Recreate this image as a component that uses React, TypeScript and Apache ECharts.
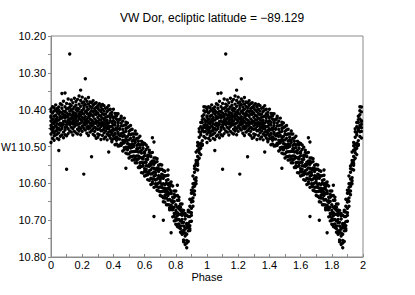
import React, { useEffect, useRef } from "react";
import * as echarts from "echarts";

const titleText = "VW Dor, ecliptic latitude = \u221289.129";
const xName = "Phase";
const yName = "W1";

// phase bins (one folded cycle); the curve is drawn twice (phase and phase + 1)
const binPhases = [
  0.0, 0.01, 0.02, 0.03, 0.04, 0.05, 0.06, 0.07, 0.08, 0.09,
  0.1, 0.11, 0.12, 0.13, 0.14, 0.15, 0.16, 0.17, 0.18, 0.19,
  0.2, 0.21, 0.22, 0.23, 0.24, 0.25, 0.26, 0.27, 0.28, 0.29,
  0.3, 0.31, 0.32, 0.33, 0.34, 0.35, 0.36, 0.37, 0.38, 0.39,
  0.4, 0.41, 0.42, 0.43, 0.44, 0.45, 0.46, 0.47, 0.48, 0.49,
  0.5, 0.51, 0.52, 0.53, 0.54, 0.55, 0.56, 0.57, 0.58, 0.59,
  0.6, 0.61, 0.62, 0.63, 0.64, 0.65, 0.66, 0.67, 0.68, 0.69,
  0.7, 0.71, 0.72, 0.73, 0.74, 0.75, 0.76, 0.77, 0.78, 0.79,
  0.8, 0.81, 0.82, 0.83, 0.84, 0.85, 0.86, 0.87, 0.88, 0.89,
  0.9, 0.91, 0.92, 0.93, 0.94, 0.95, 0.96, 0.97, 0.98, 0.99,
];

const binMags = [
  [10.417, 10.452, 10.398, 10.466, 10.431, 10.405, 10.489, 10.443, 10.421],
  [10.461, 10.409, 10.436, 10.478, 10.392, 10.447, 10.426, 10.455],
  [10.433, 10.395, 10.471, 10.418, 10.449, 10.483, 10.404, 10.438, 10.462],
  [10.426, 10.458, 10.401, 10.444, 10.387, 10.469, 10.415, 10.432],
  [10.449, 10.397, 10.478, 10.421, 10.438, 10.407, 10.456, 10.429, 10.466],
  [10.412, 10.463, 10.393, 10.44, 10.428, 10.481, 10.402, 10.511, 10.451],
  [10.437, 10.384, 10.455, 10.418, 10.472, 10.406, 10.443, 10.424],
  [10.396, 10.451, 10.423, 10.469, 10.41, 10.438, 10.356, 10.387, 10.445],
  [10.44, 10.377, 10.419, 10.461, 10.404, 10.432, 10.476, 10.413],
  [10.431, 10.392, 10.455, 10.416, 10.355, 10.448, 10.405, 10.468, 10.422],
  [10.409, 10.447, 10.383, 10.434, 10.562, 10.419, 10.471, 10.398, 10.441],
  [10.428, 10.371, 10.452, 10.413, 10.437, 10.396, 10.465, 10.42],
  [10.249, 10.404, 10.441, 10.385, 10.426, 10.458, 10.412, 10.433, 10.394],
  [10.436, 10.389, 10.461, 10.415, 10.401, 10.448, 10.374, 10.424],
  [10.407, 10.452, 10.423, 10.381, 10.439, 10.469, 10.398, 10.415, 10.431],
  [10.428, 10.369, 10.446, 10.409, 10.393, 10.437, 10.459, 10.418],
  [10.4, 10.442, 10.378, 10.425, 10.411, 10.463, 10.388, 10.434, 10.419],
  [10.431, 10.396, 10.453, 10.372, 10.417, 10.44, 10.404, 10.466],
  [10.411, 10.447, 10.385, 10.424, 10.363, 10.438, 10.398, 10.458, 10.42],
  [10.347, 10.427, 10.391, 10.452, 10.406, 10.436, 10.375, 10.415, 10.468],
  [10.421, 10.382, 10.445, 10.402, 10.43, 10.366, 10.459, 10.41],
  [10.575, 10.397, 10.436, 10.412, 10.379, 10.451, 10.424, 10.389, 10.442],
  [10.316, 10.428, 10.371, 10.455, 10.405, 10.419, 10.441, 10.386, 10.433],
  [10.41, 10.448, 10.393, 10.426, 10.464, 10.377, 10.437, 10.402],
  [10.432, 10.385, 10.452, 10.413, 10.399, 10.445, 10.367, 10.421, 10.47],
  [10.425, 10.391, 10.461, 10.408, 10.437, 10.379, 10.449, 10.416],
  [10.528, 10.403, 10.444, 10.381, 10.428, 10.457, 10.414, 10.395, 10.436],
  [10.418, 10.467, 10.388, 10.433, 10.405, 10.452, 10.376, 10.441],
  [10.436, 10.397, 10.471, 10.412, 10.448, 10.384, 10.425, 10.459, 10.403],
  [10.413, 10.452, 10.394, 10.437, 10.478, 10.405, 10.43, 10.381],
  [10.444, 10.389, 10.421, 10.466, 10.409, 10.453, 10.433, 10.396, 10.475],
  [10.427, 10.468, 10.401, 10.44, 10.384, 10.452, 10.415, 10.436],
  [10.418, 10.457, 10.393, 10.437, 10.481, 10.405, 10.446, 10.428, 10.39],
  [10.442, 10.399, 10.47, 10.423, 10.411, 10.456, 10.386, 10.435],
  [10.427, 10.463, 10.404, 10.446, 10.389, 10.437, 10.479, 10.414, 10.452],
  [10.448, 10.396, 10.431, 10.474, 10.412, 10.458, 10.421, 10.44],
  [10.419, 10.466, 10.394, 10.443, 10.429, 10.482, 10.405, 10.451, 10.436],
  [10.515, 10.452, 10.401, 10.436, 10.47, 10.417, 10.445, 10.389, 10.461],
  [10.411, 10.459, 10.477, 10.43, 10.446, 10.399, 10.469, 10.422],
  [10.487, 10.435, 10.456, 10.407, 10.464, 10.416, 10.445, 10.482],
  [10.43, 10.471, 10.399, 10.456, 10.441, 10.479, 10.422, 10.452],
  [10.41, 10.467, 10.495, 10.435, 10.419, 10.478, 10.442, 10.464],
  [10.411, 10.474, 10.45, 10.493, 10.426, 10.455, 10.417, 10.483],
  [10.437, 10.499, 10.444, 10.462, 10.411, 10.479, 10.433, 10.466],
  [10.426, 10.496, 10.453, 10.47, 10.427, 10.498, 10.451, 10.48],
  [10.418, 10.465, 10.491, 10.444, 10.497, 10.436, 10.471, 10.423],
  [10.483, 10.463, 10.512, 10.444, 10.472, 10.431, 10.491, 10.454],
  [10.508, 10.423, 10.484, 10.47, 10.442, 10.503, 10.461, 10.49],
  [10.434, 10.483, 10.518, 10.459, 10.502, 10.442, 10.476, 10.451, 10.559],
  [10.492, 10.449, 10.52, 10.473, 10.502, 10.436, 10.483, 10.509],
  [10.467, 10.52, 10.459, 10.494, 10.446, 10.502, 10.482, 10.531],
  [10.468, 10.496, 10.455, 10.515, 10.478, 10.528, 10.443, 10.504],
  [10.494, 10.466, 10.527, 10.485, 10.514, 10.453, 10.502, 10.537],
  [10.483, 10.526, 10.466, 10.5, 10.475, 10.536, 10.494, 10.514],
  [10.458, 10.527, 10.489, 10.534, 10.466, 10.513, 10.483, 10.544],
  [10.506, 10.478, 10.526, 10.544, 10.497, 10.513, 10.466, 10.536],
  [10.494, 10.557, 10.505, 10.526, 10.477, 10.534, 10.486, 10.515],
  [10.557, 10.503, 10.544, 10.472, 10.529, 10.514, 10.552, 10.495],
  [10.531, 10.486, 10.543, 10.571, 10.511, 10.495, 10.554, 10.518],
  [10.546, 10.49, 10.553, 10.529, 10.572, 10.505, 10.534, 10.496],
  [10.567, 10.518, 10.58, 10.525, 10.543, 10.492, 10.56, 10.514],
  [10.552, 10.508, 10.578, 10.535, 10.562, 10.496, 10.543, 10.569],
  [10.524, 10.57, 10.502, 10.553, 10.535, 10.59, 10.528, 10.577],
  [10.516, 10.554, 10.525, 10.592, 10.549, 10.573, 10.51, 10.566],
  [10.55, 10.586, 10.527, 10.543, 10.603, 10.575, 10.518, 10.563],
  [10.539, 10.596, 10.558, 10.573, 10.516, 10.588, 10.547, 10.601, 10.476],
  [10.569, 10.54, 10.588, 10.531, 10.58, 10.559, 10.611, 10.548, 10.488, 10.69],
  [10.601, 10.531, 10.578, 10.562, 10.609, 10.591, 10.543, 10.571],
  [10.619, 10.558, 10.588, 10.541, 10.609, 10.564, 10.602, 10.533],
  [10.599, 10.579, 10.621, 10.56, 10.585, 10.551, 10.611, 10.568],
  [10.633, 10.598, 10.549, 10.61, 10.581, 10.623, 10.562, 10.59],
  [10.611, 10.55, 10.635, 10.585, 10.622, 10.562, 10.603, 10.575],
  [10.65, 10.601, 10.621, 10.565, 10.613, 10.578, 10.639, 10.586, 10.7],
  [10.64, 10.614, 10.567, 10.633, 10.604, 10.651, 10.58, 10.623],
  [10.63, 10.658, 10.64, 10.621, 10.6, 10.592, 10.579, 10.615],
  [10.603, 10.59, 10.613, 10.578, 10.625, 10.658, 10.645, 10.633, 10.564],
  [10.617, 10.6, 10.609, 10.628, 10.672, 10.659, 10.644, 10.667],
  [10.596, 10.627, 10.604, 10.621, 10.648, 10.66, 10.628, 10.671, 10.734],
  [10.647, 10.667, 10.638, 10.607, 10.665, 10.672, 10.691, 10.653],
  [10.638, 10.649, 10.621, 10.63, 10.689, 10.702, 10.665, 10.682],
  [10.634, 10.658, 10.621, 10.694, 10.7, 10.674, 10.682, 10.711],
  [10.68, 10.699, 10.712, 10.688, 10.646, 10.665, 10.633, 10.717, 10.605],
  [10.71, 10.684, 10.72, 10.698, 10.638, 10.669, 10.646, 10.663],
  [10.716, 10.723, 10.702, 10.733, 10.673, 10.684, 10.656, 10.665],
  [10.687, 10.656, 10.698, 10.679, 10.672, 10.738, 10.707, 10.73],
  [10.674, 10.759, 10.683, 10.706, 10.728, 10.735, 10.754, 10.716],
  [10.682, 10.721, 10.697, 10.688, 10.766, 10.735, 10.743, 10.724],
  [10.713, 10.72, 10.687, 10.709, 10.762, 10.775, 10.738, 10.755],
  [10.721, 10.673, 10.729, 10.709, 10.758, 10.69, 10.718, 10.677],
  [10.715, 10.678, 10.728, 10.643, 10.704, 10.69, 10.662, 10.723],
  [10.651, 10.68, 10.619, 10.668, 10.703, 10.644, 10.687, 10.627],
  [10.626, 10.601, 10.662, 10.62, 10.64, 10.58, 10.649, 10.611],
  [10.621, 10.553, 10.6, 10.57, 10.631, 10.588, 10.56, 10.608],
  [10.593, 10.546, 10.562, 10.515, 10.585, 10.538, 10.601, 10.549],
  [10.538, 10.489, 10.546, 10.498, 10.527, 10.564, 10.51, 10.551],
  [10.452, 10.509, 10.494, 10.532, 10.475, 10.505, 10.46, 10.517],
  [10.522, 10.462, 10.446, 10.505, 10.469, 10.491, 10.435, 10.498],
  [10.451, 10.494, 10.427, 10.456, 10.418, 10.484, 10.435, 10.497],
  [10.425, 10.443, 10.392, 10.46, 10.414, 10.447, 10.403, 10.473],
  [10.432, 10.449, 10.406, 10.477, 10.43, 10.459, 10.393, 10.44],
];

const cycleOffsets = [0, 1];

const yMin = 10.2;
const yMax = 10.8;
const yStep = 0.1;
const xMin = 0;
const xMax = 2;
const xStep = 0.2;

export default function App() {
  const ref = useRef<HTMLDivElement>(null);

  useEffect(() => {
    if (!ref.current) return;
    const chart = echarts.init(ref.current, null, { renderer: "svg" });

    const points: number[][] = [];
    cycleOffsets.forEach((off) => {
      binPhases.forEach((p, i) => {
        binMags[i].forEach((m) => points.push([p + off, m]));
      });
    });

    const font = "'Liberation Sans', Arial, Helvetica, sans-serif";
    const axisGrey = "#8a8a8a";

    chart.setOption({
      animation: false,
      backgroundColor: "#ffffff",
      title: {
        text: titleText,
        left: 207,
        textAlign: "center",
        top: 7,
        textStyle: {
          fontFamily: font,
          fontSize: 12,
          fontWeight: "normal",
          color: "#000",
        },
      },
      grid: {
        left: 51,
        right: 52,
        top: 36,
        bottom: 38,
        outerBoundsMode: "none",
        containLabel: false,
        show: true,
        borderColor: axisGrey,
        borderWidth: 1,
        backgroundColor: "transparent",
      },
      xAxis: {
        type: "value",
        min: xMin,
        max: xMax,
        interval: xStep,
        name: xName,
        nameLocation: "middle",
        nameGap: 14,
        nameMoveOverlap: false,
        nameTextStyle: { fontFamily: font, fontSize: 11, color: "#000" },
        axisLine: { show: true, lineStyle: { color: axisGrey, width: 1 } },
        axisTick: { show: true, inside: true, length: 3, lineStyle: { color: axisGrey } },
        minorTick: { show: true, splitNumber: 2, length: 3, lineStyle: { color: axisGrey } },
        splitLine: { show: false },
        axisLabel: {
          margin: 2,
          fontFamily: font,
          fontSize: 11,
          color: "#000",
          formatter: (v: number) => String(Number(v.toFixed(1))),
        },
      },
      yAxis: {
        type: "value",
        inverse: true,
        min: yMin,
        max: yMax,
        interval: yStep,
        name: yName,
        nameLocation: "middle",
        nameRotate: 0,
        nameGap: 50,
        nameMoveOverlap: false,
        nameTextStyle: { fontFamily: font, fontSize: 10.5, color: "#000", align: "left" },
        axisLine: { show: true, lineStyle: { color: axisGrey, width: 1 } },
        axisTick: { show: true, inside: false, length: 3, lineStyle: { color: axisGrey } },
        minorTick: { show: true, splitNumber: 2, length: 3, lineStyle: { color: axisGrey } },
        splitLine: { show: false },
        axisLabel: {
          margin: 5,
          fontFamily: font,
          fontSize: 11,
          color: "#000",
          formatter: (v: number) => v.toFixed(2),
        },
      },
      series: [
        {
          type: "scatter",
          data: points,
          symbol: "circle",
          symbolSize: 3.4,
          itemStyle: { color: "#000", opacity: 1 },
          silent: true,
        },
      ],
    });

    return () => chart.dispose();
  }, []);

  return (
    <div
      ref={ref}
      style={{ position: "fixed", left: 0, top: 0, width: 415, height: 295 }}
    />
  );
}
